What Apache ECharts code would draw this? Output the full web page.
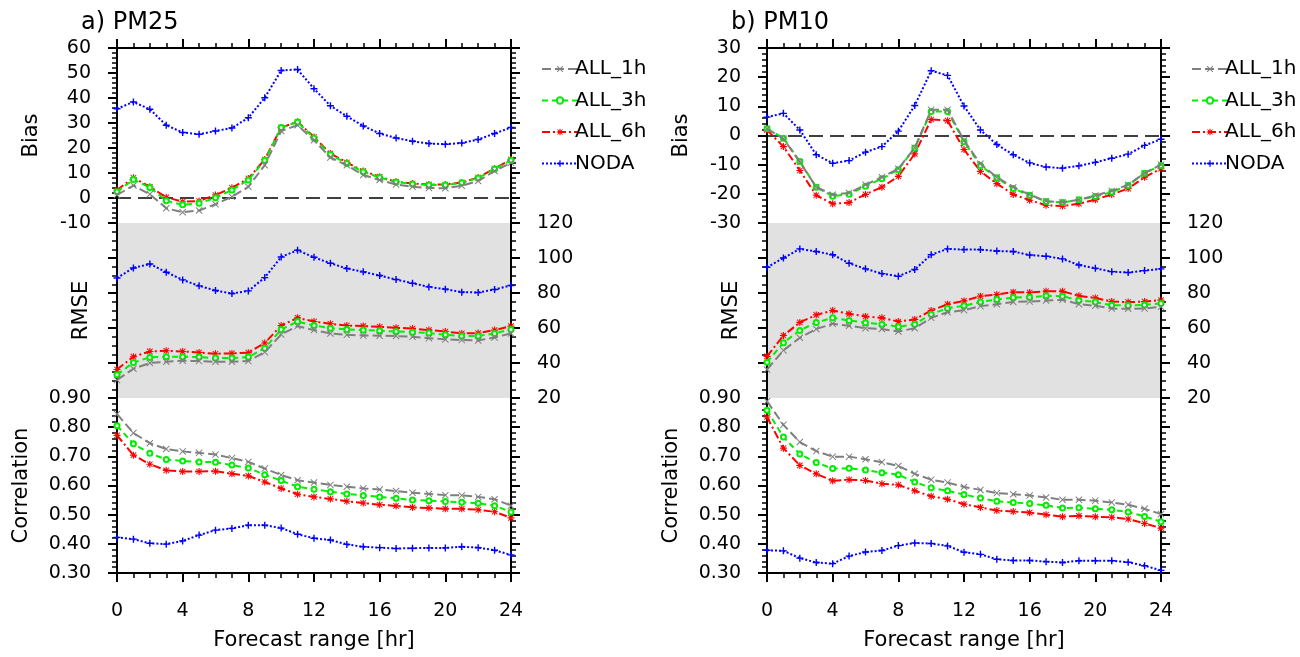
<!DOCTYPE html>
<html>
<head>
<meta charset="utf-8">
<title>PM25 / PM10 forecast verification</title>
<script src="https://cdn.jsdelivr.net/npm/echarts@6/dist/echarts.min.js"></script>
<style>
html, body { margin:0; padding:0; background:#fff; }
#main { width:1300px; height:657px; }
</style>
</head>
<body>
<div id="main"></div>
<script>
// forecast hours
var hours = [0,1,2,3,4,5,6,7,8,9,10,11,12,13,14,15,16,17,18,19,20,21,22,23,24];
var seriesNames = ['ALL_1h', 'ALL_3h', 'ALL_6h', 'NODA'];
var xTicks = [0, 24, 4];          // min, max, interval
var biasTicksA = [-10, 60, 10];
var biasTicksB = [-30, 30, 10];
var rmseTicks = [20, 120, 20];
var corrTicks = [0.3, 0.9, 0.1];

// a) PM25
var biasA_1h = [1.2,5.0,1.5,-4.1,-5.7,-5.0,-2.5,0.5,4.5,13.1,26.8,29.1,23.1,16.2,13.1,9.2,7.2,5.4,4.5,4.0,3.9,4.9,6.8,10.8,14.1];
var biasA_3h = [2.5,7.4,4.2,-1.1,-2.7,-2.1,0.1,3.2,7.2,15.1,28.2,30.4,24.0,17.4,13.8,10.5,8.2,6.4,5.6,5.2,5.2,6.1,8.0,11.6,15.1];
var biasA_6h = [3.2,8.1,4.5,0.3,-1.5,-1.2,1.2,4.1,7.8,15.4,28.2,30.5,24.4,17.8,14.2,10.8,8.5,6.5,5.8,5.4,5.4,6.2,8.2,11.8,15.4];
var biasA_noda = [35.7,38.4,35.5,29.1,26.2,25.5,26.8,28.0,32.1,40.1,51.0,51.4,43.7,36.9,32.7,28.8,25.8,24.0,22.7,21.8,21.5,22.0,23.4,25.8,28.2];

var rmseA_1h = [30.3,36.7,40.0,40.7,41.3,41.1,40.7,40.7,41.1,46.2,56.3,61.1,58.8,56.9,56.1,55.7,55.6,55.4,55.0,54.2,53.5,53.1,52.9,54.6,56.9];
var rmseA_3h = [33.3,40.3,43.2,43.6,43.6,43.4,42.8,42.8,43.4,48.5,59.2,63.7,61.4,59.9,59.2,58.8,58.4,58.0,57.6,57.1,56.1,55.4,55.4,56.9,59.2];
var rmseA_6h = [36.3,43.6,46.6,47.0,46.6,46.0,45.3,45.5,45.9,51.4,61.4,65.8,63.7,62.4,61.4,61.1,60.7,60.1,59.7,58.8,58.0,56.9,57.1,58.8,61.1];
var rmseA_noda = [88.6,94.3,96.6,91.9,87.5,84.1,81.4,79.7,81.2,88.8,100.6,104.4,100.4,97.0,94.0,92.1,90.0,87.7,85.6,83.5,82.2,80.5,80.3,82.0,84.3];

var corrA_1h = [0.845,0.780,0.745,0.725,0.717,0.712,0.706,0.694,0.681,0.658,0.636,0.618,0.610,0.602,0.596,0.590,0.586,0.581,0.575,0.571,0.567,0.566,0.561,0.553,0.531];
var corrA_3h = [0.805,0.743,0.711,0.689,0.684,0.681,0.680,0.670,0.660,0.637,0.617,0.596,0.587,0.579,0.571,0.566,0.561,0.556,0.550,0.548,0.545,0.543,0.539,0.531,0.509];
var corrA_6h = [0.772,0.704,0.673,0.652,0.648,0.648,0.649,0.640,0.633,0.612,0.590,0.570,0.561,0.554,0.546,0.540,0.534,0.530,0.525,0.523,0.520,0.520,0.517,0.510,0.489];
var corrA_noda = [0.422,0.416,0.402,0.399,0.410,0.430,0.447,0.453,0.464,0.464,0.454,0.433,0.419,0.413,0.398,0.390,0.387,0.384,0.385,0.386,0.386,0.390,0.387,0.378,0.362];

// b) PM10
var biasB_1h = [2.3,-1.1,-9.1,-17.7,-20.3,-19.7,-16.9,-14.3,-11.4,-4.2,8.8,8.8,-1.7,-9.7,-14.3,-17.7,-20.3,-22.5,-22.9,-22.0,-20.6,-19.0,-16.9,-12.9,-10.0];
var biasB_3h = [2.3,-0.9,-8.9,-17.7,-20.8,-20.1,-17.4,-14.8,-11.7,-4.3,8.2,8.2,-2.1,-10.3,-14.5,-18.2,-20.5,-22.6,-23.0,-22.0,-20.9,-19.4,-17.1,-12.9,-10.3];
var biasB_6h = [1.9,-3.8,-12.0,-20.5,-23.4,-23.0,-20.2,-17.7,-14.0,-6.3,5.5,5.1,-4.8,-12.3,-16.5,-20.2,-22.2,-23.9,-24.2,-23.4,-22.0,-20.2,-18.2,-14.3,-11.4];
var biasB_noda = [6.3,7.6,1.9,-6.6,-9.5,-8.6,-5.7,-3.8,1.5,10.3,22.2,20.6,10.1,1.9,-3.1,-6.6,-9.4,-10.8,-11.2,-10.4,-9.2,-7.8,-6.4,-3.4,-1.3];

var rmseB_1h = [36.3,47.2,54.4,59.4,62.4,61.3,59.9,59.4,58.0,59.9,65.8,69.0,70.2,72.5,73.6,74.9,75.1,75.7,76.1,73.6,72.7,71.1,71.0,71.1,72.1];
var rmseB_3h = [40.5,51.6,58.6,63.2,65.8,64.3,63.0,62.2,60.7,62.2,67.9,71.3,72.7,74.9,76.3,77.4,77.6,78.4,78.2,75.9,74.8,73.0,72.9,73.2,74.0];
var rmseB_6h = [43.8,55.7,63.2,67.5,70.0,68.1,66.6,65.8,63.7,64.9,70.0,73.6,75.5,78.2,79.1,80.5,80.3,81.0,81.0,78.4,77.2,75.1,74.8,75.1,75.9];
var rmseB_noda = [94.7,100.0,105.2,103.7,101.9,97.0,93.8,91.1,89.6,93.4,101.9,105.2,104.8,104.8,104.0,103.7,101.7,101.0,99.5,96.0,94.1,92.2,91.7,92.8,93.8];

var corrB_1h = [0.889,0.808,0.749,0.718,0.699,0.699,0.690,0.680,0.667,0.640,0.620,0.610,0.595,0.585,0.574,0.570,0.566,0.559,0.551,0.551,0.548,0.542,0.534,0.520,0.502];
var corrB_3h = [0.858,0.766,0.708,0.679,0.658,0.659,0.653,0.644,0.637,0.612,0.592,0.582,0.569,0.557,0.546,0.542,0.538,0.532,0.523,0.524,0.520,0.517,0.509,0.494,0.476];
var corrB_6h = [0.835,0.728,0.669,0.640,0.616,0.620,0.617,0.606,0.602,0.582,0.563,0.553,0.536,0.525,0.514,0.511,0.507,0.500,0.493,0.496,0.493,0.491,0.485,0.470,0.454];
var corrB_noda = [0.378,0.376,0.351,0.336,0.332,0.358,0.372,0.377,0.394,0.403,0.401,0.393,0.371,0.364,0.347,0.343,0.343,0.339,0.336,0.342,0.342,0.342,0.337,0.325,0.309];

var FONT = 'DejaVu Sans';
var panelLeft = [117, 767];
var plotWidth = 394;
var rowTop = [48, 223, 398];
var rowHeight = 175;

var colors = ['#7f7f7f', '#00ee00', '#ff0000', '#0000ff'];
var dashes = [[9, 4], [6, 4], [8, 3, 2, 3], [2, 2]];
var symbols = [
	'path://M1,0L5,4L9,0L10,1L6,5L10,9L9,10L5,6L1,10L0,9L4,5L0,1Z',
	'emptyCircle',
	'path://M4.2,0H5.8V3.2L8.5,0.6L9.4,1.5L6.8,4.2H10V5.8H6.8L9.4,8.5L8.5,9.4L5.8,6.8V10H4.2V6.8L1.5,9.4L0.6,8.5L3.2,5.8H0V4.2H3.2L0.6,1.5L1.5,0.6L4.2,3.2Z',
	'path://M4,0H6V4H10V6H6V10H4V6H0V4H4Z'
];
var symbolSizes = [7, 5, 7, 7];

var panels = [
	{ title:'a) PM25', bias:[biasA_1h, biasA_3h, biasA_6h, biasA_noda], biasTicks:biasTicksA,
	  rmse:[rmseA_1h, rmseA_3h, rmseA_6h, rmseA_noda], corr:[corrA_1h, corrA_3h, corrA_6h, corrA_noda] },
	{ title:'b) PM10', bias:[biasB_1h, biasB_3h, biasB_6h, biasB_noda], biasTicks:biasTicksB,
	  rmse:[rmseB_1h, rmseB_3h, rmseB_6h, rmseB_noda], corr:[corrB_1h, corrB_3h, corrB_6h, corrB_noda] }
];

var black = '#000';

function yAxisCfg(g, pos, ticks, minorSplit, withLabel, fmt, name, nameGap){
	var ax = {
		type:'value', gridIndex:g, position:pos,
		min:ticks[0], max:ticks[1], interval:ticks[2],
		axisLine:{ show:true, onZero:false, lineStyle:{ color:black, width:2 } },
		axisTick:{ show:true, length:9, lineStyle:{ color:black, width:2 } },
		minorTick:{ show:true, splitNumber:minorSplit, length:5, lineStyle:{ color:black, width:1.5 } },
		splitLine:{ show:false },
		minorSplitLine:{ show:false },
		axisLabel:{ show:withLabel, color:black, fontFamily:FONT, fontSize:19, margin:26,
			showMinLabel:true, showMaxLabel:true, formatter:fmt },
		silent:true
	};
	if( name ){
		ax.name = name;
		ax.nameLocation = 'middle';
		ax.nameGap = nameGap;
		ax.nameTextStyle = { color:black, fontFamily:FONT, fontSize:21 };
	}
	return ax;
}

function xAxisCfg(g, pos, visible, withLabel){
	var ax = {
		type:'value', gridIndex:g, position:pos, show:visible,
		min:xTicks[0], max:xTicks[1], interval:xTicks[2],
		axisLine:{ show:true, onZero:false, lineStyle:{ color:black, width:2 } },
		axisTick:{ show:true, length:9, lineStyle:{ color:black, width:2 } },
		minorTick:{ show:true, splitNumber:4, length:5, lineStyle:{ color:black, width:1.5 } },
		splitLine:{ show:false },
		axisLabel:{ show:withLabel, color:black, fontFamily:FONT, fontSize:19, margin:29 },
		silent:true
	};
	if( withLabel ){
		ax.name = 'Forecast range [hr]';
		ax.nameLocation = 'middle';
		ax.nameGap = 57;
		ax.nameTextStyle = { color:black, fontFamily:FONT, fontSize:21 };
	}
	return ax;
}

function lineSeries(g, yIdx, sets, zeroLine){
	var out = [];
	for( var i = 0; i < sets.length; i++ ){
		var vals = sets[i];
		var s = {
			name:seriesNames[i], type:'line',
			xAxisIndex:g, yAxisIndex:yIdx,
			data:hours.map(function(h, k){ return [h, vals[k]]; }),
			symbol:symbols[i], symbolSize:symbolSizes[i],
			lineStyle:{ color:colors[i], width:2, type:dashes[i] },
			itemStyle:{ color:colors[i], borderWidth:i == 1 ? 1.5 : 0 },
			z:10 - i,
			silent:true
		};
		if( zeroLine && i == 0 ){
			s.markLine = {
				silent:true, symbol:'none', label:{ show:false },
				lineStyle:{ color:black, type:[14, 7], width:1.5 },
				data:[ { yAxis:0 } ]
			};
		}
		out.push(s);
	}
	return out;
}

var grids = [], xAxes = [], yAxes = [], series = [], titles = [], legends = [];
var fmt1 = function(v){ return v; };
var fmt2 = function(v){ return v.toFixed(2); };

panels.forEach(function(p, pi){
	var base = pi * 3;
	for( var r = 0; r < 3; r++ ){
		var grid = { left:panelLeft[pi], width:plotWidth, top:rowTop[r], height:rowHeight, show:false };
		if( r == 1 ){
			grid.show = true;
			grid.backgroundColor = '#e1e1e1';
			grid.borderWidth = 0;
		}
		grids.push(grid);
	}
	// x axes: top ticks on Bias, hidden on RMSE, labelled bottom on Correlation
	xAxes.push(xAxisCfg(base, 'top', true, false));
	xAxes.push(xAxisCfg(base + 1, 'bottom', false, false));
	xAxes.push(xAxisCfg(base + 2, 'bottom', true, true));

	// y axes, two per grid (left, right)
	yAxes.push(yAxisCfg(base, 'left', p.biasTicks, 5, true, fmt1, 'Bias', 75));
	yAxes.push(yAxisCfg(base, 'right', p.biasTicks, 5, false, fmt1));
	yAxes.push(yAxisCfg(base + 1, 'left', rmseTicks, 4, false, fmt1, 'RMSE', 25));
	yAxes.push(yAxisCfg(base + 1, 'right', rmseTicks, 4, true, fmt1));
	yAxes.push(yAxisCfg(base + 2, 'left', corrTicks, 5, true, fmt2, 'Correlation', 85));
	yAxes.push(yAxisCfg(base + 2, 'right', corrTicks, 5, false, fmt2));

	series = series.concat(lineSeries(base, base * 2, p.bias, true));
	series = series.concat(lineSeries(base + 1, (base + 1) * 2 + 1, p.rmse, false));
	series = series.concat(lineSeries(base + 2, (base + 2) * 2, p.corr, false));

	titles.push({
		text:p.title, left:panelLeft[pi] - 41, top:6,
		textStyle:{ color:black, fontFamily:FONT, fontSize:24, fontWeight:'normal' }
	});
	legends.push({
		data:seriesNames, orient:'vertical',
		left:panelLeft[pi] + plotWidth + 25, top:54,
		itemWidth:36, itemHeight:8, itemGap:11.5,
		selectedMode:false,
		textStyle:{ color:black, fontFamily:FONT, fontSize:20, padding:[0, 0, 0, -8] }
	});
});

var chart = echarts.init(document.getElementById('main'));
chart.setOption({
	backgroundColor:'#fff',
	animation:false,
	title:titles,
	legend:legends,
	grid:grids,
	xAxis:xAxes,
	yAxis:yAxes,
	series:series
});
</script>
</body>
</html>
